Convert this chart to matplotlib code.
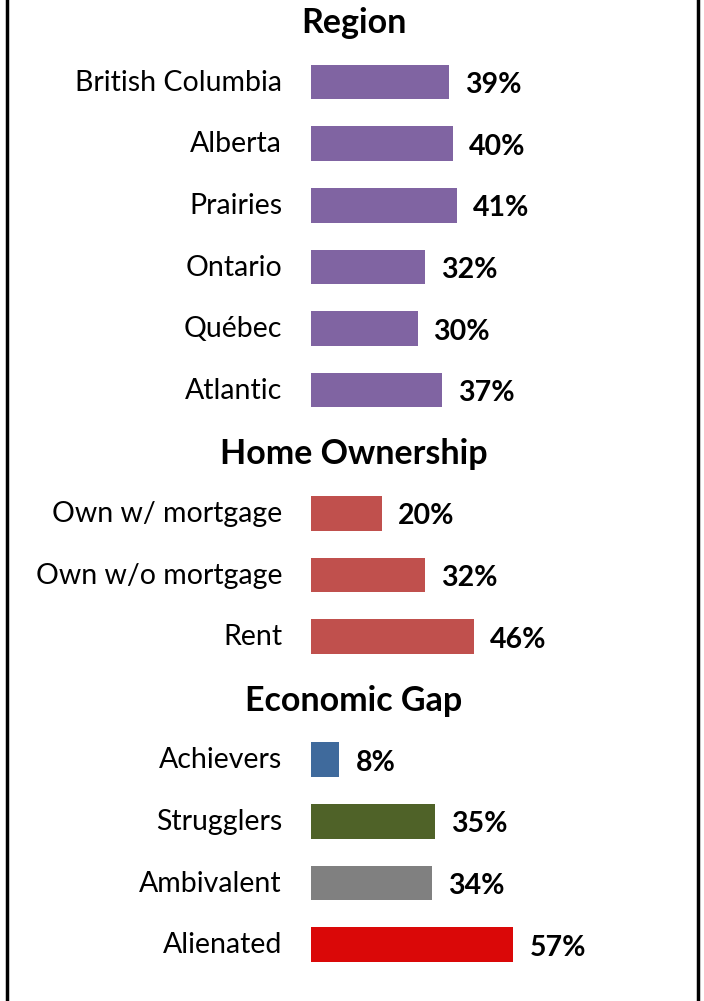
import matplotlib
matplotlib.use("Agg")
import matplotlib.pyplot as plt
from matplotlib.lines import Line2D

plt.rcParams['font.family'] = ['Lato', 'DejaVu Sans']

sections = ["Region", "Home Ownership", "Economic Gap"]
region_labels = ["British Columbia", "Alberta", "Prairies", "Ontario", "Québec", "Atlantic"]
region_values = [39, 40, 41, 32, 30, 37]
home_labels = ["Own w/ mortgage", "Own w/o mortgage", "Rent"]
home_values = [20, 32, 46]
gap_labels = ["Achievers", "Strugglers", "Ambivalent", "Alienated"]
gap_values = [8, 35, 34, 57]

region_color = "#8064A2"
home_color = "#C0504D"
gap_colors = ["#3F6A9C", "#4F6228", "#808080", "#DA0808"]

W, H = 704, 1001
fig = plt.figure(figsize=(W / 100, H / 100), dpi=100)
ax = fig.add_axes([0, 0, 1, 1])

px_per_unit = 3.55
x0_px = 311
ax.set_xlim(-x0_px / px_per_unit, (W - x0_px) / px_per_unit)
row_h = 61.6
top_px = 20.5
ax.set_ylim((H - top_px) / row_h, -top_px / row_h)
ax.axis("off")

groups = [
    (sections[0], region_labels, region_values, [region_color] * len(region_values)),
    (sections[1], home_labels, home_values, [home_color] * len(home_values)),
    (sections[2], gap_labels, gap_values, gap_colors),
]

label_x = -29 / px_per_unit
header_x = 43 / px_per_unit
row = 0
for title, labels, values, colors in groups:
    ax.text(header_x, row + 0.04, title, ha="center", va="center", fontsize=24.5,
            fontweight="bold", color="black")
    row += 1
    for lab, val, col in zip(labels, values, colors):
        ax.barh(row, val, height=0.56, color=col, left=0)
        ax.text(label_x, row + 0.01, lab, ha="right", va="center", fontsize=20.5, color="black")
        ax.text(val + 16 / px_per_unit, row + 0.05, f"{val}%", ha="left", va="center",
                fontsize=20.5, fontweight="bold", color="black")
        row += 1

fig.add_artist(Line2D([7 / W, 7 / W], [0, 1], color="black", lw=2.5, transform=fig.transFigure))
fig.add_artist(Line2D([698 / W, 698 / W], [0, 1], color="black", lw=2.5, transform=fig.transFigure))

fig.savefig("out.png", dpi=100)
